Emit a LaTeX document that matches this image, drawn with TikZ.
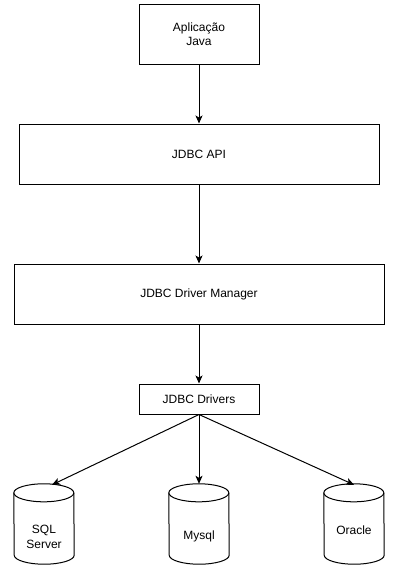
\documentclass[tikz,border=0pt]{standalone}
\usepackage{fontspec}
\setmainfont{Liberation Sans}
\usepackage{tikz}
\usetikzlibrary{positioning,arrows.meta}

\begin{document}
\begin{tikzpicture}[x=1pt,y=-1pt]
\tikzstyle{every node}+=[font=\fontsize{12}{14.5}\selectfont, align=center]
\tikzstyle{block}=[draw, line width=1pt, inner sep=0pt]
\tikzstyle{db}=[minimum width=60pt, minimum height=80pt, inner sep=0pt]
\tikzstyle{link}=[line width=1pt, -{Stealth[length=8pt,width=7pt,inset=2pt]}]
\useasboundingbox (0,0) rectangle (420,576);
\node [block, minimum width=120pt, minimum height=60pt] (app) at (199,34) {Aplicação\\Java};
\node [block, minimum width=360pt, minimum height=60pt] (api) at (199,154) {JDBC API};
\node [block, minimum width=370pt, minimum height=60pt] (mgr) at (199,294) {JDBC Driver Manager};
\node [block, minimum width=120pt, minimum height=30pt] (drv) at (199,399) {JDBC Drivers};
\node [db] (sql) at (44,524) {\rule{0pt}{34pt}SQL\\Server};
\node [db] (mysql) at (199,524) {\rule{0pt}{34pt}Mysql};
\node [db] (oracle) at (354,524) {\rule{0pt}{22pt}Oracle};
\foreach \n in {sql,mysql,oracle} {
  \draw [line width=1pt] ([yshift=-9pt]\n.north west) arc (180:0:30pt and 9pt)
    -- ([yshift=9pt]\n.south east) arc (0:-180:30pt and 9pt) -- cycle;
  \draw [line width=1pt] ([yshift=-9pt]\n.north west) arc (180:360:30pt and 9pt);
}
\draw [link] (app) -- (api);
\draw [link] (api) -- (mgr);
\draw [link] (mgr) -- (drv);
\draw [link] (drv.south) -- ([xshift=8pt,yshift=-1pt]sql.north);
\draw [link] (drv.south) -- (mysql.north);
\draw [link] (drv.south) -- ([yshift=-1pt]oracle.north);
\end{tikzpicture}
\end{document}
